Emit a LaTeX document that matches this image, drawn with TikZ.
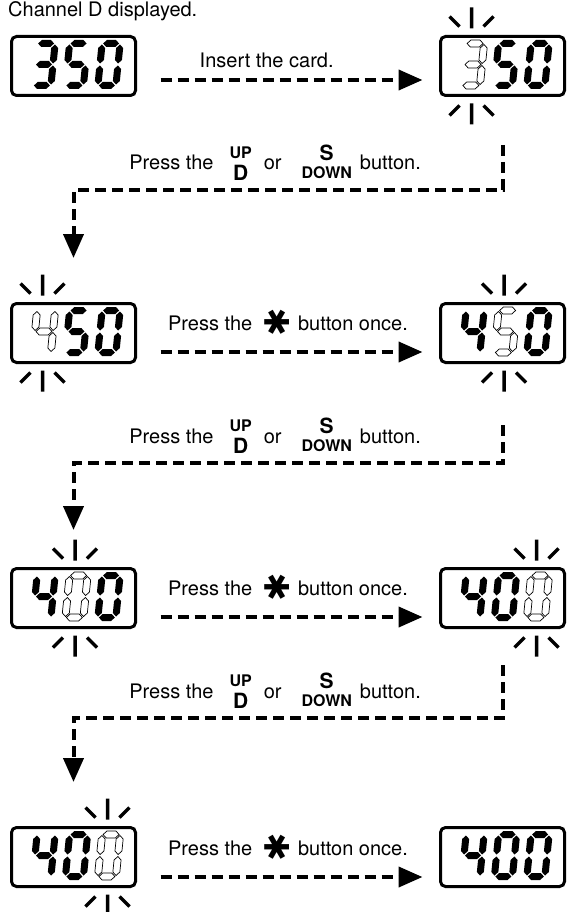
\documentclass[tikz,border=0pt]{standalone}
\usepackage{fontspec}
\setmainfont{TeX Gyre Heros}
\newfontfamily\symfont{DejaVu Sans}
\usetikzlibrary{arrows.meta,positioning}

% segment outlines of one digit (before slanting)
\def\sgpa{(1,42)--(4.5,45.5)--(13.5,45.5)--(17,42)--(13.5,38.5)--(4.5,38.5)--cycle}
\def\sgpg{(1,21)--(4.5,24.5)--(13.5,24.5)--(17,21)--(13.5,17.5)--(4.5,17.5)--cycle}
\def\sgpd{(1,0)--(4.5,3.5)--(13.5,3.5)--(17,0)--(13.5,-3.5)--(4.5,-3.5)--cycle}
\def\sgpf{(0,22)--(3.5,25.5)--(3.5,37.5)--(0,41)--(-3.5,37.5)--(-3.5,25.5)--cycle}
\def\sgpe{(0,1)--(3.5,4.5)--(3.5,16.5)--(0,20)--(-3.5,16.5)--(-3.5,4.5)--cycle}
\def\sgpb{(18,22)--(21.5,25.5)--(21.5,37.5)--(18,41)--(14.5,37.5)--(14.5,25.5)--cycle}
\def\sgpc{(18,1)--(21.5,4.5)--(21.5,16.5)--(18,20)--(14.5,16.5)--(14.5,4.5)--cycle}
\expandafter\def\csname dig0\endcsname{a,b,c,d,e,f}
\expandafter\def\csname dig3\endcsname{a,b,c,d,g}
\expandafter\def\csname dig4\endcsname{b,c,f,g}
\expandafter\def\csname dig5\endcsname{a,c,d,f,g}

\newcommand{\lcd}[2]{%
  \foreach \dg/\st [count=\i from 0] in {#2}{%
    \begin{scope}[shift={(#1.south west)},shift={(21.4+32.5*\i,10)},xslant=0.1]
      \edef\seglist{\csname dig\dg\endcsname}%
      \foreach \sg in \seglist{%
        \edef\segcmd{\noexpand\path[\st] \csname sgp\sg\endcsname;}\segcmd}
    \end{scope}}}
\newcommand{\blink}[2]{%
  \begin{scope}[shift={(#1.north west)},shift={(31+32.5*#2,0)}]
    \draw[spark] (0,8)--(0,29) (-12,10)--(-22,20) (12,10)--(22,20);
  \end{scope}
  \begin{scope}[shift={(#1.south west)},shift={(31+32.5*#2,0)}]
    \draw[spark] (0,-8)--(0,-29) (-12,-10)--(-22,-20) (12,-10)--(22,-20);
  \end{scope}}
\newcommand{\keysm}{\fontsize{16}{16}\selectfont\bfseries}
\newcommand{\keybig}{\fontsize{21}{21}\selectfont\bfseries}
\newcommand{\keystack}[3][0pt]{\begin{tabular}{@{}c@{}}#2\\[#1]#3\end{tabular}}
\newcommand{\asterbtn}{\raisebox{-6pt}{\rotatebox{90}{\symfont\fontsize{34}{34}\selectfont ✱}}}
\newcommand{\updown}{Press the\hspace{16pt}\keystack[-2pt]{\keysm UP}{\keybig D}\hspace{12pt}or\hspace{20pt}\keystack[-6pt]{\keybig S}{\keysm DOWN}\hspace{8pt}button.}
\newcommand{\starstep}{Press the\hspace{12pt}\asterbtn\hspace{9pt}button once.}

\begin{document}
\begin{tikzpicture}[x=1pt,y=1pt,on grid,
  lcdbox/.style={draw,line width=3pt,rounded corners=5pt,minimum width=124pt,minimum height=59pt,inner sep=0pt,outer sep=0pt},
  lit/.style={fill=black},
  hollow/.style={draw=black,fill=white,line width=0.7pt},
  spark/.style={line width=3.5pt},
  conn/.style={line width=4pt,dash pattern=on 11pt off 6pt,-{Triangle[length=24pt,width=20pt]}},
  lbl/.style={font=\fontsize{20}{24}\selectfont,inner sep=0pt}]
  \useasboundingbox (0,0) rectangle (570,-912);

  \node[lbl,anchor=base west] (title) at (8,-17) {Channel D displayed.};

  \node[lcdbox] (d1) at (73.5,-66) {};
  \node[lcdbox,right=429pt of d1] (d2) {};
  \node[lcdbox,below=267pt of d1] (d3) {};
  \node[lcdbox,right=429pt of d3] (d4) {};
  \node[lcdbox,below=265pt of d3] (d5) {};
  \node[lcdbox,right=429pt of d5] (d6) {};
  \node[lcdbox,below=259pt of d5] (d7) {};
  \node[lcdbox,right=429pt of d7] (d8) {};

  \lcd{d1}{3/lit,5/lit,0/lit}
  \lcd{d2}{3/hollow,5/lit,0/lit} \blink{d2}{0}
  \lcd{d3}{4/hollow,5/lit,0/lit} \blink{d3}{0}
  \lcd{d4}{4/lit,5/hollow,0/lit} \blink{d4}{1}
  \lcd{d5}{4/lit,0/hollow,0/lit} \blink{d5}{1}
  \lcd{d6}{4/lit,0/lit,0/hollow} \blink{d6}{2}
  \lcd{d7}{4/lit,0/lit,0/hollow} \blink{d7}{2}
  \lcd{d8}{4/lit,0/lit,0/lit}

  % steps across
  \draw[conn,shorten <=25pt,shorten >=18pt] ([yshift=-14pt]d1.east) -- node[lbl,pos=0.43,anchor=base,yshift=12pt] (t1) {Insert the card.} ([yshift=-14pt]d2.west);
  \draw[conn,shorten <=25pt,shorten >=18pt] ([yshift=-19pt]d3.east) -- node[lbl,anchor=base,yshift=22pt] (t3) {\starstep} ([yshift=-19pt]d4.west);
  \draw[conn,shorten <=25pt,shorten >=18pt] ([yshift=-19pt]d5.east) -- node[lbl,anchor=base,yshift=22pt] (t5) {\starstep} ([yshift=-19pt]d6.west);
  \draw[conn,shorten <=25pt,shorten >=18pt] ([yshift=-20pt]d7.east) -- node[lbl,anchor=base,yshift=22pt] (t7) {\starstep} ([yshift=-20pt]d8.west);

  % steps down
  \coordinate (k1) at (0,-190);
  \coordinate (k2) at (0,-463);
  \coordinate (k3) at (0,-718);
  \draw[conn,shorten <=49.5pt,shorten >=45.5pt] (d2.south) -- (d2.south |- k1) -- node[lbl,pos=0.53,anchor=base,yshift=20pt] (t2) {\updown} (d3.north |- k1) -- (d3.north);
  \draw[conn,shorten <=62.5pt,shorten >=38.5pt] (d4.south) -- (d4.south |- k2) -- node[lbl,pos=0.53,anchor=base,yshift=20pt] (t4) {\updown} (d5.north |- k2) -- (d5.north);
  \draw[conn,shorten <=37.5pt,shorten >=45.5pt] (d6.south) -- (d6.south |- k3) -- node[lbl,pos=0.53,anchor=base,yshift=20pt] (t6) {\updown} (d7.north |- k3) -- (d7.north);
\end{tikzpicture}
\end{document}
